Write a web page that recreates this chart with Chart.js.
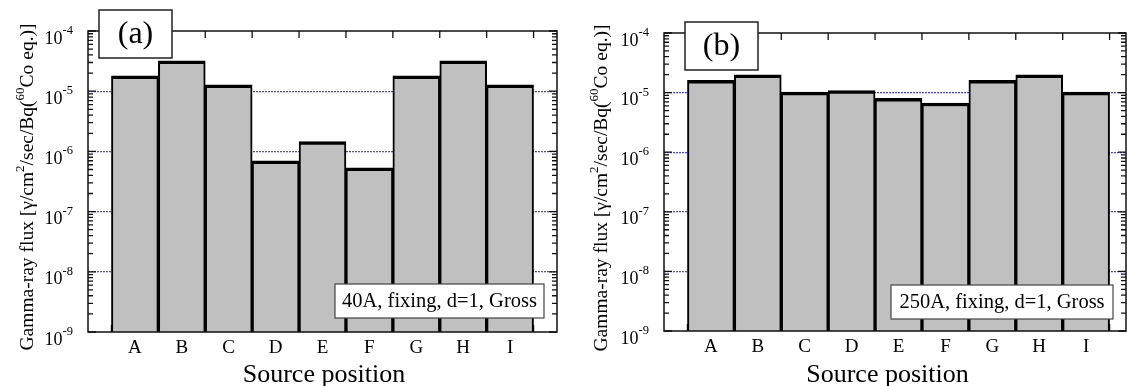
<!DOCTYPE html>
<html><head><meta charset="utf-8">
<script src="https://cdn.jsdelivr.net/npm/chart.js@4.4.1/dist/chart.umd.min.js"></script>
<style>
html,body{margin:0;padding:0;background:#fff;overflow:hidden;width:1127px;height:386px;}
.panel{position:absolute;top:0;}
</style></head><body>
<div class="panel" style="left:0"><canvas id="pa" width="570" height="386"></canvas></div>
<div class="panel" style="left:576px"><canvas id="pb" width="570" height="386"></canvas></div>
<script>
// ---- data ----
const categories = ['A', 'B', 'C', 'D', 'E', 'F', 'G', 'H', 'I'];
const fluxA = [1.8e-5, 3.2e-5, 1.27e-5, 7.0e-7, 1.45e-6, 5.35e-7, 1.8e-5, 3.2e-5, 1.27e-5];
const fluxB = [1.6e-5, 1.98e-5, 1.02e-5, 1.08e-5, 8.0e-6, 6.7e-6, 1.6e-5, 1.98e-5, 1.02e-5];
const yDecades = [-9, -8, -7, -6, -5, -4];
const yMinorSteps = [2, 3, 4, 5, 6, 7, 8, 9];
const panelLabels = ['(a)', '(b)'];
const panelNotes = ['40A, fixing, d=1, Gross', '250A, fixing, d=1, Gross'];
const yTitleParts = [['Gamma-ray flux [γ/cm', 0], ['2', 1], ['/sec/Bq(', 0], ['60', 1], ['Co eq.)]', 0]];
const xTitle = 'Source position';

// ---- layout / style ----
const SERIF = "'Liberation Serif', 'Times New Roman', serif";
const layoutCfg = {
  pa: { pad: {left: 88, top: 31, right: 13, bottom: 21.2}, xMax: 10,
        labelBox: {x: 99, y: 10, w: 73, h: 48}, noteBox: {x: 335, y: 284, w: 209, h: 34},
        yTitleX: 33, yTitleCY: 187, xTitleCX: 324, xTitleY: 381.5, label: 0 },
  pb: { pad: {left: 88, top: 33, right: 20, bottom: 22.2}, xMax: 9.85,
        labelBox: {x: 109, y: 22, w: 73, h: 48}, noteBox: {x: 315, y: 285, w: 222, h: 34},
        yTitleX: 31, yTitleCY: 188, xTitleCX: 311.5, xTitleY: 381.5, label: 1 }
};

const decor = {
  id: 'decor',
  beforeDatasetsDraw(chart) {
    const {ctx, chartArea: a, scales: {x, y}} = chart;
    ctx.save();
    ctx.strokeStyle = '#111';
    ctx.lineWidth = 1.3;
    ctx.beginPath();
    yDecades.forEach((e, k) => {
      const steps = k < yDecades.length - 1 ? [1, ...yMinorSteps] : [1];
      steps.forEach(m => {
        const py = y.getPixelForValue(m * Math.pow(10, e));
        const len = m === 1 ? 8 : 5;
        ctx.moveTo(a.left, py); ctx.lineTo(a.left + len, py);
        ctx.moveTo(a.right, py); ctx.lineTo(a.right - len, py);
      });
    });
    for (let i = 0; i <= categories.length; i++) {
      const px = x.getPixelForValue(i + 0.5);
      ctx.moveTo(px, a.top); ctx.lineTo(px, a.top + 7);
      ctx.moveTo(px, a.bottom); ctx.lineTo(px, a.bottom - 7);
    }
    ctx.stroke();
    ctx.restore();
  },
  afterDatasetsDraw(chart) {
    const L = layoutCfg[chart.canvas.id];
    const {ctx, chartArea: a, scales: {y}} = chart;
    ctx.save();
    // frame
    ctx.strokeStyle = '#111';
    ctx.lineWidth = 1.5;
    ctx.strokeRect(a.left, a.top, a.right - a.left, a.bottom - a.top);
    // panel label box
    const b = L.labelBox;
    ctx.fillStyle = '#fff';
    ctx.fillRect(b.x, b.y, b.w, b.h);
    ctx.lineWidth = 1.5; ctx.strokeStyle = '#222';
    ctx.strokeRect(b.x, b.y, b.w, b.h);
    ctx.fillStyle = '#000';
    ctx.font = '32px ' + SERIF;
    ctx.textAlign = 'center'; ctx.textBaseline = 'middle';
    ctx.fillText(panelLabels[L.label], b.x + b.w / 2, b.y + b.h / 2 + 1);
    // note box
    const n = L.noteBox;
    ctx.fillStyle = '#fff';
    ctx.fillRect(n.x, n.y, n.w, n.h);
    ctx.lineWidth = 1.2; ctx.strokeStyle = '#444';
    ctx.strokeRect(n.x, n.y, n.w, n.h);
    ctx.fillStyle = '#000';
    ctx.font = '20.5px ' + SERIF;
    ctx.fillText(panelNotes[L.label], n.x + n.w / 2, n.y + n.h / 2 + 1);
    // y tick labels
    ctx.textBaseline = 'alphabetic';
    ctx.textAlign = 'left';
    yDecades.forEach(e => {
      const py = y.getPixelForValue(Math.pow(10, e));
      const ex = String(e);
      ctx.font = '12.5px ' + SERIF;
      const we = ctx.measureText(ex).width;
      ctx.font = '18px ' + SERIF;
      const wb = ctx.measureText('10').width;
      const right = a.left - 15;
      ctx.fillText('10', right - we - wb, py + 12.5);
      ctx.font = '12.5px ' + SERIF;
      ctx.fillText(ex, right - we, py + 3);
    });
    // y title (rotated)
    ctx.save();
    ctx.translate(L.yTitleX, L.yTitleCY);
    ctx.rotate(-Math.PI / 2);
    let total = 0;
    yTitleParts.forEach(([t, s]) => { ctx.font = (s ? '13px ' : '19.5px ') + SERIF; total += ctx.measureText(t).width; });
    let cx = -total / 2;
    yTitleParts.forEach(([t, s]) => {
      ctx.font = (s ? '13px ' : '19.5px ') + SERIF;
      ctx.fillText(t, cx, s ? -9 : 0);
      cx += ctx.measureText(t).width;
    });
    ctx.restore();
    // x title
    ctx.font = '26px ' + SERIF;
    ctx.textAlign = 'center';
    ctx.fillText(xTitle, L.xTitleCX, L.xTitleY);
    ctx.restore();
  }
};

function makePanel(id, values) {
  const L = layoutCfg[id];
  return new Chart(document.getElementById(id), {
    type: 'bar',
    data: {
      datasets: [{
        data: values.map((v, i) => ({x: i + 1, y: v})),
        backgroundColor: '#c0c0c0',
        borderColor: '#000',
        borderWidth: {top: 3.5, left: 2, right: 2, bottom: 0},
        borderSkipped: false,
        barPercentage: 1,
        categoryPercentage: 1
      }]
    },
    options: {
      responsive: false, animation: false, devicePixelRatio: 1,
      layout: {padding: L.pad},
      plugins: {legend: {display: false}, tooltip: {enabled: false}},
      scales: {
        x: {
          type: 'linear', min: 0, max: L.xMax, offset: false,
          grid: {display: false, drawTicks: false, offset: false},
          border: {display: false},
          afterBuildTicks: s => { s.ticks = categories.map((c, i) => ({value: i + 1})); },
          ticks: {
            padding: 5, color: '#000', autoSkip: false, maxRotation: 0,
            font: {family: SERIF, size: 19},
            callback: v => categories[Math.round(v) - 1] ?? ''
          }
        },
        y: {
          type: 'logarithmic', min: 1e-9, max: 1e-4,
          grid: {
            drawTicks: false, lineWidth: 1.2,
            color: c => (c.tick && c.tick.value > 2e-9 && c.tick.value < 5e-5) ? 'rgb(70,70,255)' : 'rgba(0,0,0,0)'
          },
          border: {display: false, dash: [2, 1]},
          afterBuildTicks: s => { s.ticks = yDecades.map(e => ({value: Math.pow(10, e)})); },
          ticks: {display: false}
        }
      }
    },
    plugins: [decor]
  });
}
makePanel('pa', fluxA);
makePanel('pb', fluxB);
</script>
</body></html>
